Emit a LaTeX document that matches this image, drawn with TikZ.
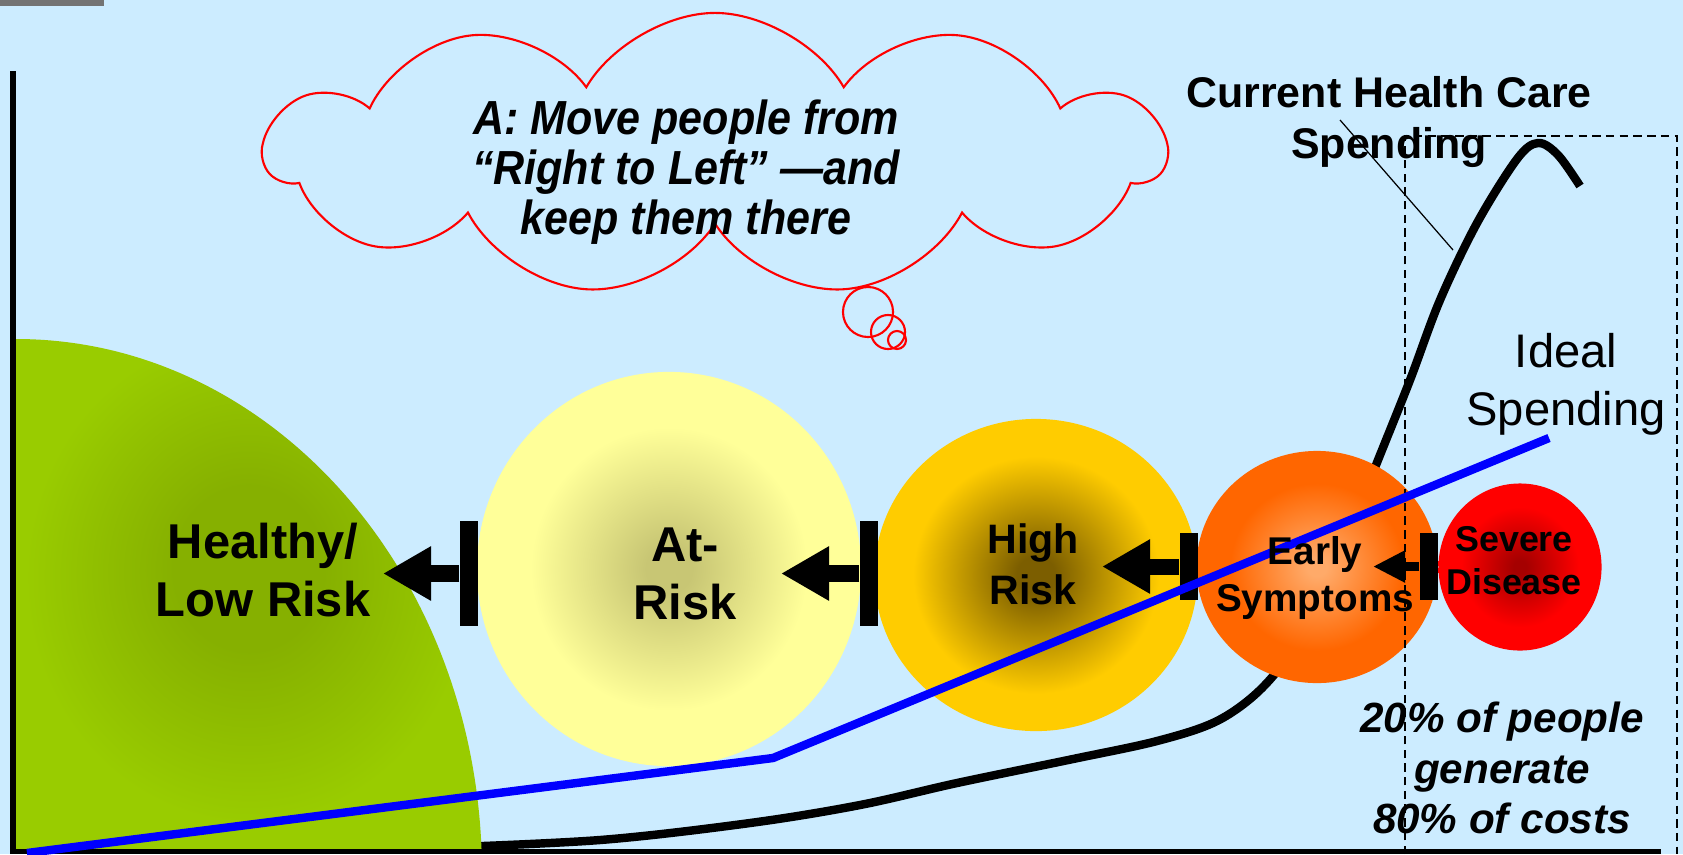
\documentclass[tikz,border=0pt]{standalone}
\usepackage{fontspec}
\setmainfont{Liberation Sans}
\newfontfamily\narrowsans[FakeStretch=0.9]{Liberation Sans}
\usetikzlibrary{arrows.meta, shapes.geometric, shapes.symbols}

\definecolor{skyback}{RGB}{204,236,255}
\definecolor{leafrim}{RGB}{153,204,0}
\definecolor{leafcore}{RGB}{134,176,0}
\definecolor{lemonrim}{RGB}{255,255,153}
\definecolor{lemoncore}{RGB}{200,198,116}
\definecolor{goldrim}{RGB}{255,204,0}
\definecolor{goldcore}{RGB}{124,94,0}
\definecolor{tangerim}{RGB}{255,102,0}
\definecolor{tangecore}{RGB}{255,170,105}
\definecolor{cherryrim}{RGB}{255,0,0}
\definecolor{cherrycore}{RGB}{165,0,0}

\pgfdeclareradialshading{leafshade}{\pgfpoint{0bp}{3bp}}{color(0bp)=(leafcore); color(8bp)=(leafcore); color(24bp)=(leafrim); color(50bp)=(leafrim)}
\pgfdeclareradialshading{lemonshade}{\pgfpoint{0bp}{0bp}}{color(0bp)=(lemoncore); color(3bp)=(lemoncore); color(18bp)=(lemonrim); color(50bp)=(lemonrim)}
\pgfdeclareradialshading{goldshade}{\pgfpoint{0bp}{0bp}}{color(0bp)=(goldcore); color(3bp)=(goldcore); color(19bp)=(goldrim); color(50bp)=(goldrim)}
\pgfdeclareradialshading{tangeshade}{\pgfpoint{0bp}{0bp}}{color(0bp)=(tangecore); color(2bp)=(tangecore); color(18bp)=(tangerim); color(50bp)=(tangerim)}
\pgfdeclareradialshading{cherryshade}{\pgfpoint{0bp}{0bp}}{color(0bp)=(cherrycore); color(2bp)=(cherrycore); color(18bp)=(cherryrim); color(50bp)=(cherryrim)}

\tikzset{
  stage/.style={ellipse, shade, inner sep=0pt},
  stagetext/.style={align=center, font=\bfseries\fontsize{13.9}{16.5}\selectfont},
  stopbar/.style={fill=black, inner sep=0pt, minimum width=0.18cm},
  push/.style={line width=0.17cm, -{Triangle[length=4.8mm 0 0, width=5.1mm 0 0]}},
  pushsmall/.style={line width=0.09cm, -{Triangle[length=3.2mm 0 0, width=3mm 0 0]}},
  spend/.style={line width=2.4pt, line join=round},
  ideal/.style={blue, line width=2.4pt},
  costbox/.style={line width=0.5pt, dash pattern=on 2.4pt off 1.5pt},
  puff/.style={circle, draw=red, line width=0.6pt, inner sep=0pt}
}

\begin{document}
\begin{tikzpicture}[x=0.01cm, y=-0.01cm]
\useasboundingbox (0,0) rectangle (1683,854);
\fill[skyback] (0,0) rectangle (1683,854);
\fill[black!55] (0,0) rectangle (104,6);

% current spending curve (behind the circles)
\draw[spend] plot[smooth, tension=0.55] coordinates {(430,848) (600,840) (750,823) (860,805)
  (957,783) (1073,759) (1157,741) (1217,721) (1262,688) (1300,638) (1340,555) (1378,460)
  (1410,380) (1440,300) (1477,223) (1517,159) (1538,143) (1558,155) (1580,186)};

% healthy region
\shade[shading=leafshade] (16,339)
  arc[start angle=-90, end angle=-2.6, x radius=466, y radius=534] -- (16,849) -- cycle;

% axes
\draw[line width=0.06cm] (13,71) -- (13,854);
\draw[line width=0.05cm] (10,851.5) -- (1661,851.5);

% risk stages
\node[stage, shading=lemonshade, minimum width=3.84cm, minimum height=3.94cm] (atrisk) at (669,569) {};
\node[stage, shading=goldshade, minimum width=3.23cm, minimum height=3.12cm] (highrisk) at (1036,575) {};
\node[stage, shading=tangeshade, minimum width=2.41cm, minimum height=2.32cm] (early) at (1317,567) {};
\node[stage, shading=cherryshade, minimum width=1.63cm, minimum height=1.67cm] (severe) at (1520,567) {};

% moving people right to left
\node[stopbar, minimum height=1.05cm] (bar1) at (469,573.5) {};
\node[stopbar, minimum height=1.05cm] (bar2) at (869,573.5) {};
\node[stopbar, minimum height=0.67cm] (bar3) at (1189,566.5) {};
\node[stopbar, minimum height=0.67cm] (bar4) at (1429,566.5) {};
\coordinate (tip1) at (383,573.5);
\coordinate (tip2) at (781,573.5);
\coordinate (tip3) at (1102,566.5);
\coordinate (tip4) at (1373,566.5);
\draw[push] (bar1.west) -- (tip1);
\draw[push] (bar2.west) -- (tip2);
\draw[push, line width=0.16cm] (bar3.west) -- (tip3);
\draw[pushsmall] (bar4.west) -- (tip4);

% 20/80 box
\draw[costbox] (1405,854) -- (1405,136) -- (1677,136) -- (1677,854);

% ideal spending
\draw[ideal] (27,853) -- (773,758) -- (1549,438);

% labels
\node[stagetext] (healthylbl) at (263,570) {Healthy/\\Low Risk};
\node[stagetext] (atrisklbl) at (685,573.5) {At-\\Risk};
\node[stagetext, font=\bfseries\fontsize{11.7}{14.5}\selectfont] (highlbl) at (1033,564.5) {High\\Risk};
\node[stagetext, font=\bfseries\fontsize{11}{13.4}\selectfont] (earlylbl) at (1315,578) {Early\\Symptoms};
\node[stagetext, font=\bfseries\fontsize{10.2}{12.2}\selectfont] (severelbl) at (1514,561) {Severe\\Disease};
\node[stagetext, font=\bfseries\fontsize{12.2}{14.5}\selectfont] (current) at (1389,122) {Current Health Care\\Spending};
\node[align=center, font=\fontsize{13.4}{16.5}\selectfont] (ideallbl) at (1566,384) {Ideal\\Spending};
\node[align=center, font=\bfseries\itshape\fontsize{12}{14.4}\selectfont] (pareto) at (1502,768) {20\% of people\\generate\\80\% of costs};
\coordinate (leadtop) at (1340,120);
\coordinate (leadend) at (1453,250);
\draw[line width=0.35pt] (leadtop) -- (leadend);

% thought bubble
\node[cloud, cloud puffs=11, cloud puff arc=120, aspect=3.2, draw=red, line width=0.6pt,
  minimum width=8.99cm, minimum height=2.82cm] (bubble) at (715,154) {};
\node[align=center, font=\narrowsans\bfseries\itshape\fontsize{13.6}{14.2}\selectfont] (thought) at (686,172)
  {A: Move people from\\“Right to Left” —and\\keep them there};
\node[puff, minimum size=0.5cm] (puff1) at (868,312) {};
\node[puff, minimum size=0.34cm] (puff2) at (888,332) {};
\node[puff, minimum size=0.18cm] (puff3) at (897,340) {};
\end{tikzpicture}
\end{document}
